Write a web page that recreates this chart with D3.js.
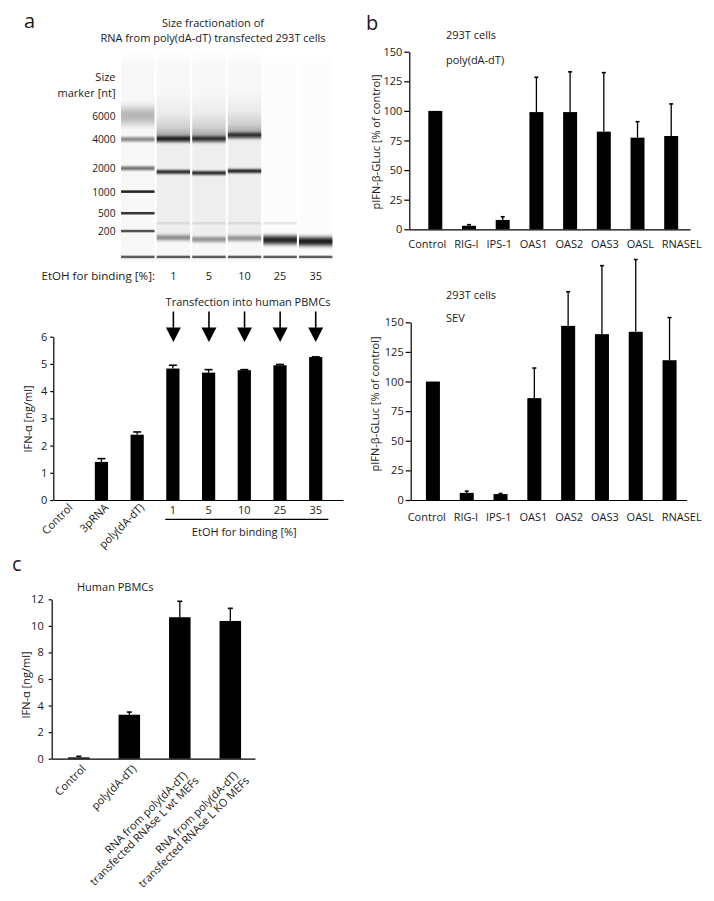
<!DOCTYPE html>
<html><head><meta charset="utf-8">
<script src="https://cdn.jsdelivr.net/npm/d3@7"></script>
<style>
body{margin:0;background:#fff;}
svg{display:block;font-family:"Open Sans",sans-serif;}
</style></head><body>
<svg id="fig" width="714" height="901"></svg>
<script>
// ================= DATA =================
// Panel a – gel (relative migration Rf, 0 = top of lane, 1 = bottom)
const gelLanes = ["marker", "1", "5", "10", "25", "35"];
const markerSizes = [6000, 4000, 2000, 1000, 500, 200];
const markerRf = [0.31, 0.421, 0.558, 0.668, 0.770, 0.854];
const markerIntensity = [0.28, 0.45, 0.6, 0.85, 0.78, 0.68];
const markerSpread = [0.035, 0.01, 0.008, 0.006, 0.006, 0.006];
const lowerMarkerRf = 0.976;
const lowerMarkerIntensity = 0.62;
const bandLane = ["1", "1", "1", "1", "5", "5", "5", "5", "10", "10", "10", "10", "25", "25", "35"];
const bandRf = [0.421, 0.575, 0.817, 0.885, 0.421, 0.580, 0.817, 0.893, 0.404, 0.571, 0.817, 0.888, 0.817, 0.896, 0.903];
const bandIntensity = [0.85, 0.92, 0.08, 0.45, 0.75, 0.92, 0.08, 0.42, 0.75, 0.95, 0.08, 0.42, 0.08, 0.92, 0.95];
const bandSpread = [0.012, 0.008, 0.006, 0.012, 0.012, 0.008, 0.006, 0.012, 0.012, 0.008, 0.006, 0.012, 0.006, 0.018, 0.018];
const smearLanes = ["1", "5", "10"];
const smearStartRf = [0.2, 0.2, 0.19];
const smearEndRf = [0.421, 0.421, 0.404];
const etohLabels = ["1", "5", "10", "25", "35"];

// Panel a – IFN-α bar chart
const aCats = ["Control", "3pRNA", "poly(dA-dT)", "1", "5", "10", "25", "35"];
const aValues = [0, 1.4, 2.4, 4.83, 4.68, 4.77, 4.95, 5.25];
const aErrors = [0, 0.12, 0.1, 0.12, 0.11, 0.02, 0.03, 0.01];
const aTicks = [0, 1, 2, 3, 4, 5, 6];

// Panel b
const bCats = ["Control", "RIG-I", "IPS-1", "OAS1", "OAS2", "OAS3", "OASL", "RNASEL"];
const bPolyValues = [100, 3, 7.9, 99, 99, 82.5, 77.4, 78.8];
const bPolyErrors = [0, 0.9, 2.7, 29.4, 34, 49.8, 13.5, 27.1];
const bSevValues = [100, 6, 5, 86, 147, 140, 142, 118];
const bSevErrors = [0, 1.5, 0.5, 25.4, 28.8, 57.8, 61, 36];
const bTicks = [0, 25, 50, 75, 100, 125, 150];

// Panel c
const cCats = ["Control", "poly(dA-dT)", "RNA from poly(dA-dT)|transfected RNAse L wt MEFs", "RNA from poly(dA-dT)|transfected RNAse L KO MEFs"];
const cValues = [0.1, 3.31, 10.65, 10.37];
const cErrors = [0.08, 0.2, 1.2, 0.95];
const cTicks = [0, 2, 4, 6, 8, 10, 12];

// ================= DRAWING =================
const svg = d3.select("#fig");
const defs = svg.append("defs");
const FS = 11;
const ink = "#1a1a1a";

function txt(x, y, s, opts = {}) {
  return svg.append("text").attr("x", x).attr("y", y).text(s)
    .attr("font-size", opts.size || FS).attr("fill", ink)
    .attr("text-anchor", opts.anchor || "start");
}

// Panel letters
txt(24, 28, "a", {size: 20});
txt(366, 30, "b", {size: 20});
txt(12, 571, "c", {size: 20});

// ---------- Gel ----------
txt(213, 26.5, "Size fractionation of", {anchor: "middle"});
txt(213, 42, "RNA from poly(dA-dT) transfected 293T cells", {anchor: "middle"});
txt(115.5, 80.5, "Size", {anchor: "end"});
txt(115.5, 96.5, "marker [nt]", {anchor: "end"});

const gelX = d3.scaleBand().domain(gelLanes).range([120, 333.5]).paddingInner(0.06).paddingOuter(0.03);
const gelY = d3.scaleLinear().domain([0, 1]).range([50, 262]);
const gelH = gelY(1) - gelY(0);
const gel = svg.append("g");

// lane backgrounds
const laneBg = defs.append("linearGradient").attr("id", "laneBg").attr("x1", 0).attr("x2", 0).attr("y1", 0).attr("y2", 1);
laneBg.append("stop").attr("offset", 0).attr("stop-color", "#000").attr("stop-opacity", 0.0);
laneBg.append("stop").attr("offset", 0.08).attr("stop-color", "#000").attr("stop-opacity", 0.03);
laneBg.append("stop").attr("offset", 1).attr("stop-color", "#000").attr("stop-opacity", 0.03);
gel.selectAll("rect.bg").data(gelLanes).join("rect").attr("class", "bg")
  .attr("x", d => gelX(d)).attr("width", gelX.bandwidth())
  .attr("y", gelY(0)).attr("height", gelH)
  .attr("fill", "url(#laneBg)").attr("opacity", (d, i) => i < 4 ? 1 : 0.4);

// smears
const smearGrad = defs.append("linearGradient").attr("id", "smear").attr("x1", 0).attr("x2", 0).attr("y1", 0).attr("y2", 1);
[[0, 0], [0.45, 0.05], [0.75, 0.16], [0.92, 0.32], [1, 0.5]].forEach(s =>
  smearGrad.append("stop").attr("offset", s[0]).attr("stop-color", "#000").attr("stop-opacity", s[1]));
gel.selectAll("rect.smear").data(smearLanes).join("rect").attr("class", "smear")
  .attr("x", d => gelX(d)).attr("width", gelX.bandwidth())
  .attr("y", (d, i) => gelY(smearStartRf[i]))
  .attr("height", (d, i) => gelY(smearEndRf[i]) - gelY(smearStartRf[i]))
  .attr("fill", "url(#smear)");
gel.selectAll("rect.smear2").data(smearLanes).join("rect").attr("class", "smear2")
  .attr("x", d => gelX(d)).attr("width", gelX.bandwidth())
  .attr("y", (d, i) => gelY(smearEndRf[i]))
  .attr("height", (d, i) => gelY(0.87) - gelY(smearEndRf[i]))
  .attr("fill", "#000").attr("opacity", 0.035);

function band(lane, rf, intensity, spread, id) {
  const h = Math.max(2, spread * gelH * 2);
  const sd = spread * gelH * 0.55;
  defs.append("filter").attr("id", id).attr("x", "-5%").attr("y", "-300%").attr("width", "110%").attr("height", "700%")
    .append("feGaussianBlur").attr("stdDeviation", `0 ${sd}`);
  gel.append("rect").attr("x", gelX(lane)).attr("width", gelX.bandwidth())
    .attr("y", gelY(rf) - h / 2).attr("height", h)
    .attr("fill", "#000").attr("opacity", intensity).attr("filter", `url(#${id})`);
}
markerSizes.forEach((s, i) => band("marker", markerRf[i], markerIntensity[i], markerSpread[i], "mk" + i));
bandLane.forEach((l, i) => band(l, bandRf[i], bandIntensity[i], bandSpread[i], "sb" + i));
gelLanes.forEach((l, i) => band(l, lowerMarkerRf, lowerMarkerIntensity, 0.006, "lm" + i));

// marker labels
markerSizes.forEach((s, i) => txt(115.5, gelY(markerRf[i]) + 4, String(s), {anchor: "end", size: 10.2}));

// EtOH row
txt(155, 280, "EtOH for binding [%]:", {anchor: "end", size: 11.6});
etohLabels.forEach(l => txt(gelX(l) + gelX.bandwidth() / 2, 280, l, {anchor: "middle"}));
txt(248, 305.5, "Transfection into human PBMCs", {anchor: "middle"});

// arrows
etohLabels.forEach(l => {
  const cx = gelX(l) + gelX.bandwidth() / 2;
  svg.append("line").attr("x1", cx).attr("x2", cx).attr("y1", 311.5).attr("y2", 330).attr("stroke", "#000").attr("stroke-width", 1.6);
  svg.append("path").attr("d", `M${cx - 7.5},327.5 L${cx + 7.5},327.5 L${cx},342 Z`).attr("fill", "#000");
});

// ---------- Generic bar panel ----------
function styleAxis(g) {
  g.attr("font-family", null).attr("font-size", null);
  g.selectAll("path.domain").attr("stroke", "#000").attr("stroke-width", 1.2);
  g.selectAll(".tick line").attr("stroke", "#000").attr("stroke-width", 1.2);
  g.selectAll(".tick text").attr("font-size", FS).attr("fill", ink);
}
function barPanel(o) {
  const x = d3.scaleBand().domain(o.cats).range(o.xRange).paddingInner(o.padInner).paddingOuter(o.padOuter).align(o.align);
  const y = d3.scaleLinear().domain(o.yDomain).range(o.yRange);
  const g = svg.append("g");
  const cx = d => x(d) + x.bandwidth() / 2;
  g.selectAll("rect.bar").data(o.cats).join("rect").attr("class", "bar")
    .attr("x", d => x(d)).attr("width", x.bandwidth())
    .attr("y", (d, i) => y(o.values[i])).attr("height", (d, i) => y(0) - y(o.values[i]))
    .attr("fill", "#000");
  const err = o.cats.map((c, i) => ({c, v: o.values[i], e: o.errors[i]})).filter(d => d.e > 0);
  g.selectAll("line.err").data(err).join("line").attr("class", "err")
    .attr("x1", d => cx(d.c)).attr("x2", d => cx(d.c))
    .attr("y1", d => y(d.v)).attr("y2", d => y(d.v + d.e))
    .attr("stroke", "#000").attr("stroke-width", 1.3);
  g.selectAll("line.cap").data(err).join("line").attr("class", "cap")
    .attr("x1", d => cx(d.c) - o.capW / 2).attr("x2", d => cx(d.c) + o.capW / 2)
    .attr("y1", d => y(d.v + d.e)).attr("y2", d => y(d.v + d.e))
    .attr("stroke", "#000").attr("stroke-width", 1.6);
  g.append("g").attr("transform", `translate(${o.xRange[0]},0)`)
    .call(d3.axisLeft(y).tickValues(o.ticks).tickFormat(d3.format("d")).tickSize(o.tickSize).tickSizeOuter(0).tickPadding(o.tickPad))
    .call(styleAxis);
  g.append("g").attr("transform", `translate(0,${y(0)})`)
    .call(d3.axisBottom(x).tickSize(0).tickSizeOuter(0).tickFormat(""))
    .call(styleAxis);
  svg.append("text").attr("transform", `translate(${o.yLabelPos[0]},${o.yLabelPos[1]}) rotate(-90)`)
    .attr("text-anchor", "middle").attr("font-size", FS).attr("fill", ink).text(o.yLabel);
  return {x, y, cx, g};
}

// ---------- Panel a bar chart ----------
const pa = barPanel({cats: aCats, values: aValues, errors: aErrors, yDomain: [0, 6], yRange: [500, 336.7],
  xRange: [53.3, 343], padInner: 0.63, padOuter: 0.371, align: 0.22, ticks: aTicks, capW: 8, tickSize: 3, tickPad: 3,
  yLabel: "IFN-α [ng/ml]", yLabelPos: [31.5, 419]});
aCats.forEach((c, i) => {
  if (i < 3) {
    svg.append("text").attr("transform", `translate(${pa.cx(c) + 5},${pa.y(0) + 5.5}) rotate(-45)`)
      .attr("text-anchor", "end").attr("dy", "0.35em").attr("font-size", FS).attr("fill", ink).text(c);
  } else {
    txt(pa.cx(c), pa.y(0) + 14, c, {anchor: "middle"});
  }
});
svg.append("line").attr("x1", pa.x("1") - 1).attr("x2", pa.x("35") + pa.x.bandwidth() + 6)
  .attr("y1", 519.3).attr("y2", 519.3).attr("stroke", "#000").attr("stroke-width", 1.2);
txt((pa.x("1") + pa.x("35") + pa.x.bandwidth()) / 2, 535.5, "EtOH for binding [%]", {anchor: "middle"});

// ---------- Panel b ----------
// category labels are set as one evenly spaced row under the axis (as in the original layout)
function bLabels(p, yOff, rowStart, rowEnd) {
  const nodes = bCats.map(c => txt(0, p.y(0) + yOff, c));
  const widths = nodes.map(n => n.node().getComputedTextLength());
  const gap = (rowEnd - rowStart - d3.sum(widths)) / (bCats.length - 1);
  let x = rowStart;
  nodes.forEach((n, i) => { n.attr("x", x); x += widths[i] + gap; });
}
const pb1 = barPanel({cats: bCats, values: bPolyValues, errors: bPolyErrors, yDomain: [0, 150], yRange: [229.3, 51.7],
  xRange: [409.3, 690], padInner: 0.585, padOuter: 0.457, align: 0.617, ticks: bTicks, capW: 4, tickSize: 5, tickPad: 2,
  yLabel: "pIFN-β-GLuc [% of control]", yLabelPos: [380, 142]});
bLabels(pb1, 18.5, 408.3, 701.7);
txt(446, 39, "293T cells");
txt(446, 64, "poly(dA-dT)");

const pb2 = barPanel({cats: bCats, values: bSevValues, errors: bSevErrors, yDomain: [0, 150], yRange: [500, 322.3],
  xRange: [410.7, 686.7], padInner: 0.585, padOuter: 0.375, align: 0.6, ticks: bTicks, capW: 4, tickSize: 5, tickPad: 2,
  yLabel: "pIFN-β-GLuc [% of control]", yLabelPos: [379, 404]});
bLabels(pb2, 20.5, 407.7, 701.7);
txt(446, 299, "293T cells");
txt(446, 322, "SEV");

// ---------- Panel c ----------
const pc = barPanel({cats: cCats, values: cValues, errors: cErrors, yDomain: [0, 12], yRange: [758.7, 599.3],
  xRange: [51.7, 255], padInner: 0.574, padOuter: 0.3, align: 0.54, ticks: cTicks, capW: 5, tickSize: 3, tickPad: 5,
  yLabel: "IFN-α [ng/ml]", yLabelPos: [30, 685]});
txt(77, 591, "Human PBMCs");
cCats.forEach(c => {
  const lines = c.split("|");
  const t = svg.append("text").attr("transform", `translate(${pc.cx(c) + 5},${pc.y(0) + 8}) rotate(-45)`)
    .attr("text-anchor", "end").attr("font-size", FS).attr("fill", ink);
  if (lines.length === 1) {
    t.attr("dy", "0.35em").text(c);
  } else {
    t.append("tspan").attr("x", -4.4).attr("y", 8.9).text(lines[0]);
    t.append("tspan").attr("x", 0).attr("y", 20.7).text(lines[1]);
  }
});
</script>
</body></html>
